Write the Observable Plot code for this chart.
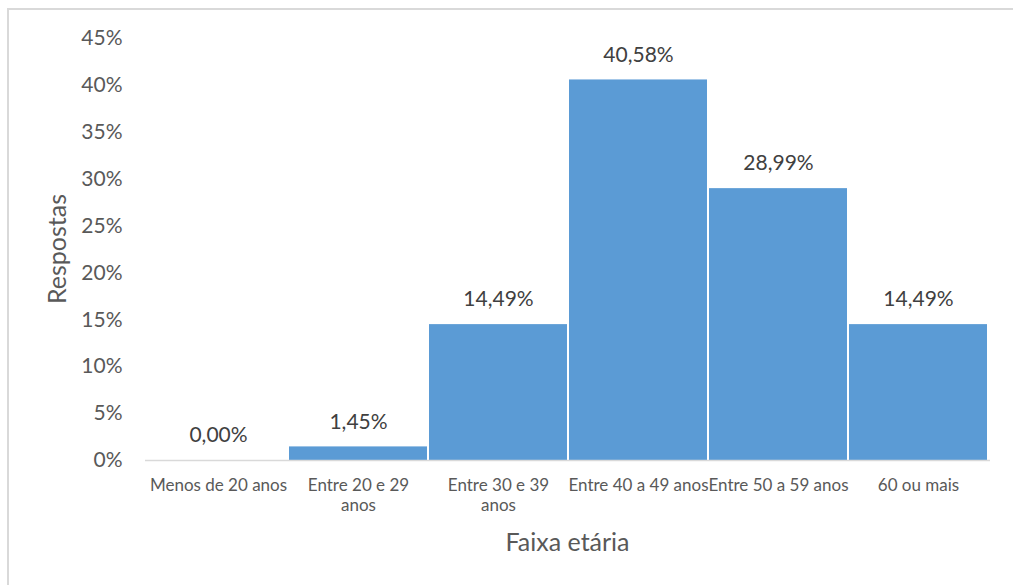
<!DOCTYPE html>
<html>
<head>
<meta charset="utf-8">
<script src="https://cdn.jsdelivr.net/npm/d3@7"></script>
<script src="https://cdn.jsdelivr.net/npm/@observablehq/plot@0.6"></script>
<style>
  html, body { margin: 0; padding: 0; background: #fff; }
  #wrap { position: relative; width: 1013px; height: 585px; overflow: hidden; }
  #border { position: absolute; left: 7px; top: 8px; width: 1100px; height: 700px;
            border-top: 2px solid #d9d9d9; border-left: 2px solid #d9d9d9; }
  #chart { position: absolute; left: 0; top: 0; }
</style>
</head>
<body>
<div id="wrap"><div id="border"></div><div id="chart"></div></div>
<script>
const categories = ["Menos de 20 anos", "Entre 20 e 29 anos", "Entre 30 e 39 anos", "Entre 40 a 49 anos", "Entre 50 a 59 anos", "60 ou mais"];
const tickLabels = ["Menos de 20 anos", "Entre 20 e 29\nanos", "Entre 30 e 39\nanos", "Entre 40 a 49 anos", "Entre 50 a 59 anos", "60 ou mais"];
const values = [0.00, 1.45, 14.49, 40.58, 28.99, 14.49];
const yTicks = [0, 5, 10, 15, 20, 25, 30, 35, 40, 45];

const data = categories.map((c, i) => ({category: c, value: values[i]}));
const labelOf = new Map(categories.map((c, i) => [c, tickLabels[i]]));
const fmt = v => v.toFixed(2).replace(".", ",") + "%";
const font = "Lato, 'Open Sans', sans-serif";

const chart = Plot.plot({
  width: 1013,
  height: 585,
  marginLeft: 145,
  marginRight: 23,
  marginTop: 38,
  marginBottom: 125,
  style: {fontFamily: font, background: "transparent", overflow: "visible"},
  x: {domain: categories, padding: 0},
  y: {domain: [0, 45]},
  marks: [
    Plot.barY(data, {x: "category", y: "value", fill: "#5B9BD5", insetLeft: 1, insetRight: 1}),
    Plot.ruleY([0], {stroke: "#d9d9d9", strokeWidth: 1.5}),
    Plot.text(data, {x: "category", y: "value", text: d => fmt(d.value), dy: -25, lineAnchor: "middle",
      fontSize: 21, fill: "#404040"}),
    Plot.axisY({ticks: yTicks, tickFormat: d => d + "%", tickSize: 0, tickPadding: 23,
      fontSize: 21, color: "#595959", label: null}),
    Plot.axisX({tickFormat: d => labelOf.get(d), tickSize: 0, tickPadding: 16, lineAnchor: "top",
      lineHeight: 1.18, fontSize: 17, color: "#595959", label: null})
  ]
});
document.getElementById("chart").appendChild(chart);

// axis titles
const svg = d3.select(chart);
svg.append("text").attr("x", 567.5).attr("y", 545).attr("text-anchor", "middle")
  .attr("dominant-baseline", "middle").attr("fill", "#595959").attr("font-size", 25)
  .attr("font-family", font).text("Faixa etária");
svg.append("text").attr("transform", "translate(60,249) rotate(-90)").attr("text-anchor", "middle")
  .attr("dominant-baseline", "middle").attr("fill", "#595959").attr("font-size", 25)
  .attr("font-family", font).text("Respostas");
</script>
</body>
</html>
